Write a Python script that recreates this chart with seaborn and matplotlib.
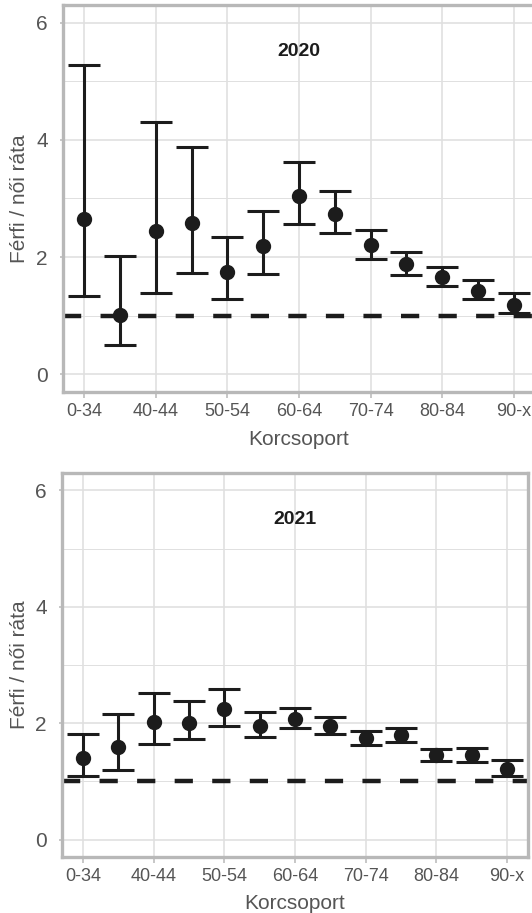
import numpy as np
import pandas as pd
import matplotlib
matplotlib.use("Agg")
import matplotlib.pyplot as plt
import seaborn as sns

# korcsoportok
groups = ["0-34", "35-39", "40-44", "45-49", "50-54", "55-59", "60-64",
          "65-69", "70-74", "75-79", "80-84", "85-89", "90-x"]
tick_labels = ["0-34", "40-44", "50-54", "60-64", "70-74", "80-84", "90-x"]

# 2020: férfi / női ráta és konfidencia-intervallum
ratio_2020 = [2.65, 1.02, 2.45, 2.58, 1.74, 2.19, 3.04, 2.74, 2.20, 1.88, 1.66, 1.43, 1.19]
lo_2020 = [1.34, 0.51, 1.39, 1.73, 1.29, 1.72, 2.56, 2.42, 1.97, 1.70, 1.50, 1.29, 1.04]
hi_2020 = [5.28, 2.02, 4.31, 3.87, 2.34, 2.79, 3.63, 3.12, 2.47, 2.08, 1.84, 1.61, 1.38]

# 2021
ratio_2021 = [1.40, 1.59, 2.02, 2.01, 2.25, 1.96, 2.08, 1.95, 1.75, 1.79, 1.45, 1.45, 1.22]
lo_2021 = [1.10, 1.19, 1.64, 1.72, 1.96, 1.76, 1.91, 1.82, 1.63, 1.68, 1.35, 1.33, 1.10]
hi_2021 = [1.81, 2.15, 2.52, 2.38, 2.58, 2.19, 2.26, 2.10, 1.87, 1.92, 1.55, 1.57, 1.36]

INK = "#1c1c1c"
GRID = "#e0e0e0"
BORDER = "#b8b8b8"
TEXT = "#555555"

sns.set_style("white")
plt.rcParams["font.family"] = ["Liberation Sans", "DejaVu Sans"]

fig = plt.figure(figsize=(5.32, 9.13), dpi=100)
W, H = 532.0, 913.0
# tengelyek helye pixelben: bal, felső, jobb, alsó
boxes = [(63, 5, 535, 392), (62, 473, 528, 857)]
panels = [("2020", ratio_2020, lo_2020, hi_2020),
          ("2021", ratio_2021, lo_2021, hi_2021)]

for (l, t, r, b), (year, ratio, lo, hi) in zip(boxes, panels):
    ax = fig.add_axes([l / W, 1 - b / H, (r - l) / W, (b - t) / H])
    df = pd.DataFrame({"Korcsoport": groups, "ratio": ratio, "lo": lo, "hi": hi})
    df["Korcsoport"] = pd.Categorical(df["Korcsoport"], categories=groups, ordered=True)

    # referencia vonal 1-nél
    ax.axhline(1, color=INK, lw=3.2, ls=(0, (4.1, 4.35)), zorder=1.5)

    pos = np.arange(len(groups))
    yerr = [df["ratio"] - df["lo"], df["hi"] - df["ratio"]]
    ax.errorbar(pos, df["ratio"], yerr=yerr, fmt="none", ecolor=INK,
                elinewidth=2.2, capsize=11.5, capthick=2.2, zorder=2)
    sns.pointplot(data=df, x="Korcsoport", y="ratio", errorbar=None,
                  linestyle="none", marker="o", markersize=9,
                  color=INK, ax=ax, zorder=3)

    ax.set_xlim(-0.6, len(groups) - 0.4)
    ax.set_ylim(-0.3, 6.3)
    ax.set_xticks([groups.index(g) for g in tick_labels])
    ax.set_xticklabels(tick_labels)
    ax.set_yticks([0, 2, 4, 6])
    ax.set_yticks([1, 3, 5], minor=True)

    ax.grid(which="major", color=GRID, lw=1.2, zorder=0)
    ax.grid(which="minor", axis="y", color=GRID, lw=0.7, zorder=0)
    ax.set_axisbelow(True)

    for sp in ax.spines.values():
        sp.set_visible(True)
        sp.set_color(BORDER)
        sp.set_linewidth(2.4)

    ax.tick_params(axis="x", which="major", length=4, width=1.1, color=BORDER,
                   pad=4, labelsize=13, labelcolor=TEXT, bottom=True)
    ax.tick_params(axis="y", which="major", length=2, width=1.1, color=BORDER,
                   pad=9, labelsize=15, labelcolor=TEXT, left=True)
    ax.tick_params(which="minor", length=0)

    ax.set_xlabel("Korcsoport", fontsize=15, color=TEXT)
    ax.set_ylabel("Férfi / női ráta", fontsize=15, color=TEXT)
    ax.xaxis.set_label_coords(0.5, -0.097)
    ax.yaxis.set_label_coords(-0.071, 0.5)

    ax.text(6, 5.5, year, ha="center", va="center", fontsize=14,
            fontweight="bold", color=INK)

fig.savefig("out.png", dpi=100, facecolor="white")
